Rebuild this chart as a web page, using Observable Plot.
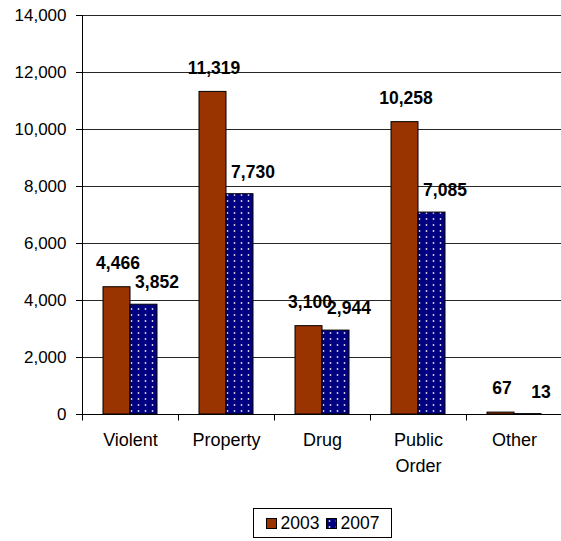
<!DOCTYPE html>
<html>
<head>
<meta charset="utf-8">
<script src="https://cdn.jsdelivr.net/npm/d3@7"></script>
<script src="https://cdn.jsdelivr.net/npm/@observablehq/plot@0.6"></script>
<style>
  html, body { margin: 0; padding: 0; background: #fff; }
  body { width: 561px; height: 541px; position: relative; overflow: hidden; font-family: "Liberation Sans", Arial, sans-serif; }
  #chart svg { display: block; overflow: visible; }
  #legend { position: absolute; left: 253px; top: 508px; width: 137px; height: 28px; border: 1px solid #000; display: flex; align-items: center; justify-content: center; gap: 6px; font-size: 17.5px; color: #000; }
  #legend .item { display: flex; align-items: center; gap: 4px; }
</style>
</head>
<body>
<svg width="0" height="0" style="position:absolute">
  <defs>
    <pattern id="dots" width="7" height="6" patternUnits="userSpaceOnUse">
      <rect width="7" height="6" fill="#000080"></rect>
      <circle cx="3.5" cy="3" r="0.9" fill="#ffffff" fill-opacity="0.85"></circle>
    </pattern>
  </defs>
</svg>
<div id="chart"></div>
<div id="legend"></div>
<script>
const categories = ["Violent", "Property", "Drug", "Public Order", "Other"];
const years = ["2003", "2007"];
const values2003 = [4466, 11319, 3100, 10258, 67];
const values2007 = [3852, 7730, 2944, 7085, 13];
const yTicks = [0, 2000, 4000, 6000, 8000, 10000, 12000, 14000];
const seriesFills = ["#993300", "url(#dots)"];

const data = categories.flatMap((c, i) => [
  {cat: c, year: years[0], value: values2003[i]},
  {cat: c, year: years[1], value: values2007[i]}
]);
const fmt = d3.format(",");

const tickSymbol = {
  draw(context, size) {
    const r = Math.sqrt(size / Math.PI);
    context.moveTo(0, 0);
    context.lineTo(0, r);
  }
};

const plot = Plot.plot({
  width: 561,
  height: 495,
  marginLeft: 80,
  marginRight: -3,
  marginTop: 15,
  marginBottom: 81,
  style: {fontFamily: "'Liberation Sans', Arial, sans-serif", color: "#000", background: "transparent"},
  fx: {domain: categories, paddingInner: 0, paddingOuter: 0, label: null},
  x: {domain: years, paddingInner: 0, paddingOuter: 0.76, axis: null},
  y: {domain: [0, 14000], label: null},
  color: {domain: years, range: seriesFills},
  marks: [
    Plot.gridY(yTicks, {stroke: "#000", strokeOpacity: 0.85, strokeWidth: 1}),
    Plot.barY(data, {fx: "cat", x: "year", y: "value", fill: "year", stroke: "#000", strokeWidth: 1}),
    Plot.text(data.filter(d => d.year === years[0]), {fx: "cat", x: "year", y: "value", text: d => fmt(d.value), dy: -24, dx: 1, fontWeight: "bold", fontSize: 17.5, fill: "#000"}),
    Plot.text(data.filter(d => d.year === years[1]), {fx: "cat", x: "year", y: "value", text: d => fmt(d.value), dy: -22, dx: 13, fontWeight: "bold", fontSize: 17.5, fill: "#000"}),
    Plot.ruleY([0], {stroke: "#000", strokeWidth: 1}),
    Plot.dot([null], {frameAnchor: "bottom-left", symbol: tickSymbol, r: 6, stroke: "#000", strokeWidth: 1}),
    Plot.axisY(yTicks, {tickFormat: fmt, tickSize: 6, tickPadding: 10, fontSize: 17, stroke: "#000", label: null}),
    Plot.frame({anchor: "left", facetAnchor: "left", stroke: "#000"}),
    Plot.axisFx({anchor: "bottom", tickSize: 0, tickPadding: 14, fontSize: 18, lineHeight: 1.4, tickFormat: d => d.replace(" ", "\n"), label: null})
  ]
});
document.getElementById("chart").appendChild(plot);

const legend = document.getElementById("legend");
years.forEach((y, i) => {
  const item = document.createElement("span");
  item.className = "item";
  const sw = document.createElementNS("http://www.w3.org/2000/svg", "svg");
  sw.setAttribute("width", "11");
  sw.setAttribute("height", "11");
  const r = document.createElementNS("http://www.w3.org/2000/svg", "rect");
  r.setAttribute("x", "0.5"); r.setAttribute("y", "0.5");
  r.setAttribute("width", "10"); r.setAttribute("height", "10");
  r.setAttribute("fill", seriesFills[i]);
  r.setAttribute("stroke", "#000");
  sw.appendChild(r);
  item.appendChild(sw);
  const t = document.createElement("span");
  t.textContent = y;
  item.appendChild(t);
  legend.appendChild(item);
});
</script>
</body>
</html>
